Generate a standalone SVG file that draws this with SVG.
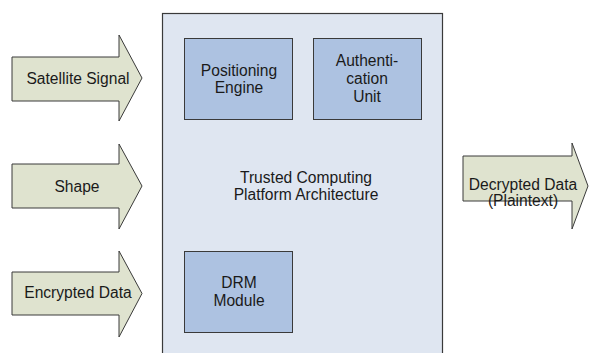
<svg xmlns="http://www.w3.org/2000/svg" width="589" height="353" viewBox="0 0 589 353">
  <style>
    .arrow { fill: #dfe3cf; stroke: #3a3a3a; stroke-width: 1; }
    .platform { fill: #dfe6f1; stroke: #3a3a3a; stroke-width: 1.2; }
    .unit { fill: #adc2e1; stroke: #3a3a3a; stroke-width: 1; }
    text { font-family: "Liberation Sans", Arial, sans-serif; font-size: 15.6px; fill: #1a1a1a; text-anchor: middle; }
  </style>
  <rect width="589" height="353" fill="#ffffff"/>

  <!-- platform container -->
  <g id="platform">
    <rect class="platform" x="162.5" y="13.5" width="280" height="360"/>
    <text x="306" y="183">Trusted Computing</text>
    <text x="306" y="200">Platform Architecture</text>
  </g>

  <g id="positioning-engine">
    <rect class="unit" x="184.5" y="38.5" width="108" height="81"/>
    <text x="239" y="76">Positioning</text>
    <text x="239" y="93">Engine</text>
  </g>

  <g id="authentication-unit">
    <rect class="unit" x="313.5" y="38.5" width="108" height="81"/>
    <text x="367" y="66">Authenti-</text>
    <text x="367" y="84">cation</text>
    <text x="367" y="102">Unit</text>
  </g>

  <g id="drm-module">
    <rect class="unit" x="184.5" y="251.5" width="108" height="81"/>
    <text x="239" y="288">DRM</text>
    <text x="239" y="306">Module</text>
  </g>

  <!-- block arrows for inputs and output -->
  <g id="connectors">
    <g id="satellite-signal">
      <path class="arrow" d="M12,57 H119 V35 L142,78 L119,121 V101 H12 Z"/>
      <text x="78" y="84">Satellite Signal</text>
    </g>
    <g id="shape">
      <path class="arrow" d="M12,164 H119 V144 L142,186 L119,229 V208 H12 Z"/>
      <text x="77" y="192">Shape</text>
    </g>
    <g id="encrypted-data">
      <path class="arrow" d="M12,272 H119 V251 L142,293.5 L119,337 V315 H12 Z"/>
      <text x="78" y="298">Encrypted Data</text>
    </g>
    <g id="decrypted-data">
      <path class="arrow" d="M463,156 H572 V143 L588,186 L572,229 V201 H463 Z"/>
      <text x="523" y="190">Decrypted Data</text>
      <text x="523" y="206">(Plaintext)</text>
    </g>
  </g>
</svg>
